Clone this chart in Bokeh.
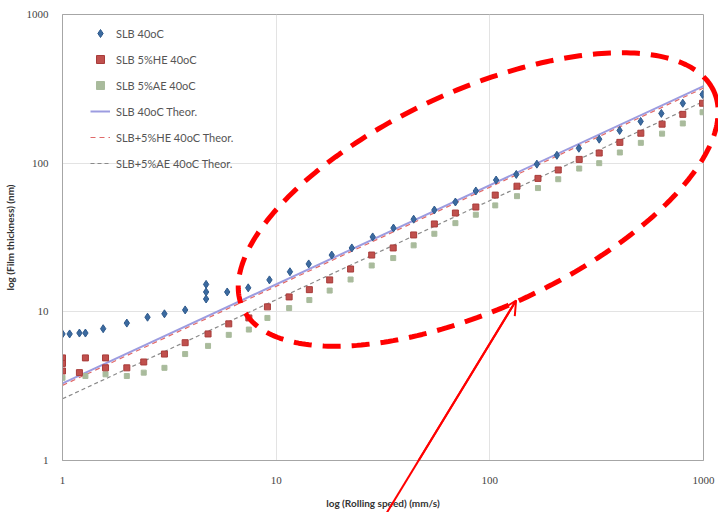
import numpy as np
from bokeh.plotting import figure
from bokeh.models import Range1d, FixedTicker, PrintfTickFormatter, Legend, LegendItem, Arrow, OpenHead
from bokeh.embed import file_html
from bokeh.resources import INLINE

# ---- data ----
slb_x = [1, 1.08, 1.2, 1.28, 1.55, 2.0, 2.5, 3.0, 3.75, 4.7, 4.7, 4.7, 5.9, 7.4, 9.3, 11.6, 14.2,
         18.2, 22.6, 28.3, 35.4, 44, 55, 69, 86, 107, 133, 166, 206, 261, 325, 405, 508, 635, 800, 990]
slb_y = [7.1, 7.1, 7.2, 7.2, 7.7, 8.4, 9.2, 9.7, 10.3, 12.2, 13.6, 15.3, 13.6, 14.5, 16.4, 18.6, 21.0,
         24.1, 26.9, 31.9, 36.6, 42, 48.4, 54.8, 65, 77, 84, 98.5, 113, 126, 145, 166, 191, 216, 253, 290]

he_x = [1, 1, 1, 1.2, 1.28, 1.59, 1.59, 2.0, 2.4, 3.0, 3.75, 4.8, 6.0, 7.45, 9.1, 11.5, 14.3, 17.8,
        22.3, 28, 35.3, 44, 55, 69, 86, 106, 134, 168, 209, 262, 325, 406, 509, 640, 800, 990]
he_y = [4.9, 4.5, 4.0, 3.9, 4.9, 4.9, 4.2, 4.2, 4.6, 5.2, 6.2, 7.1, 8.3, 9.1, 10.8, 12.6, 14.1, 16.4,
        19.4, 24.1, 26.9, 32.9, 39, 46.2, 50.7, 61, 70, 79, 90, 106, 117, 138, 159, 183, 213, 253]

ae_x = [1, 1.28, 1.59, 2.0, 2.4, 3.0, 3.75, 4.8, 6.0, 7.45, 9.1, 11.5, 14.3, 17.8, 22.3, 28, 35.3,
        44, 55, 69, 86, 106, 134, 168, 209, 262, 325, 406, 509, 640, 800, 990]
ae_y = [3.6, 3.7, 3.8, 3.7, 3.9, 4.2, 5.2, 5.9, 7.0, 7.6, 9.1, 10.6, 12.0, 13.9, 16.5, 20.5, 23.0,
        28.0, 33.5, 39.5, 45, 52, 60, 68, 78, 92, 100, 118, 137, 158, 185, 220]

theor_x = [1, 1000]
slb_theor_y = [3.3, 330]
he_theor_y = [3.2, 320]
ae_theor_y = [2.6, 260]

ticks = [1, 10, 100, 1000]
labels = ["SLB 40oC", "SLB 5%HE 40oC", "SLB 5%AE 40oC",
          "SLB 40oC Theor.", "SLB+5%HE 40oC Theor.", "SLB+5%AE 40oC Theor."]

# ---- figure ----
p = figure(width=718, height=512, x_axis_type="log", y_axis_type="log",
           x_range=Range1d(1, 1000), y_range=Range1d(1, 1000),
           output_backend="svg", toolbar_location=None,
           min_border_left=60, min_border_right=15, min_border_top=14, min_border_bottom=52)
p.background_fill_color = "white"
p.border_fill_color = "white"
p.outline_line_color = "#a6a6a6"
p.outline_line_width = 1

for ax in (p.xaxis, p.yaxis):
    ax.ticker = FixedTicker(ticks=ticks)
    ax.formatter = PrintfTickFormatter(format="%d")
    ax.major_tick_in = 0
    ax.major_tick_out = 0
    ax.minor_tick_in = 0
    ax.minor_tick_out = 0
    ax.axis_line_color = "#a6a6a6"
    ax.major_label_text_font = "Liberation Serif"
    ax.major_label_text_font_size = "11px"
    ax.major_label_text_color = "#444444"
    ax.axis_label_text_font = "Lato"
    ax.axis_label_text_font_size = "10px"
    ax.axis_label_text_font_style = "bold"
    ax.axis_label_text_color = "#333333"

p.xaxis.axis_label = "log (Rolling speed) (mm/s)"
p.yaxis.axis_label = "log (Film thickness) (nm)"
p.xaxis.major_label_standoff = 16
p.xaxis.axis_label_standoff = 10
p.yaxis.major_label_standoff = 14
p.yaxis.axis_label_standoff = 8

p.xgrid.ticker = FixedTicker(ticks=ticks)
p.ygrid.ticker = FixedTicker(ticks=ticks)
p.xgrid.grid_line_color = "#e3e3e3"
p.ygrid.grid_line_color = "#e3e3e3"

# theoretical lines
l1 = p.line(theor_x, slb_theor_y, line_color="#9c9ce0", line_width=2)
l2 = p.line(theor_x, he_theor_y, line_color="#e06a6a", line_width=1.2, line_dash="5 4")
l3 = p.line(theor_x, ae_theor_y, line_color="#8a8a8a", line_width=1.2, line_dash="4 3")

# measured series
r3 = p.scatter(ae_x, ae_y, marker="square", size=5, fill_color="#a9bb9c", line_color="#a9bb9c")
r2 = p.scatter(he_x, he_y, marker="square", size=6, fill_color="#c0504d", line_color="#a83c3a")
r1 = p.scatter(slb_x, slb_y, marker="diamond", size=8, fill_color="#3b6aa0", line_color="#2f5a8c")

legend = Legend(items=[LegendItem(label=labels[0], renderers=[r1]),
                       LegendItem(label=labels[1], renderers=[r2]),
                       LegendItem(label=labels[2], renderers=[r3]),
                       LegendItem(label=labels[3], renderers=[l1]),
                       LegendItem(label=labels[4], renderers=[l2]),
                       LegendItem(label=labels[5], renderers=[l3])],
                location=(28, 287), border_line_color=None, background_fill_alpha=0,
                padding=0, spacing=6, glyph_height=20, label_height=20, glyph_width=20,
                label_text_font="Lato", label_text_font_size="11px", label_text_color="#555555",
                label_standoff=6)
p.add_layout(legend)

# ---- annotation: dashed red ellipse and arrow (pixel-based geometry in log space) ----
dec_x = 643 / 3.0
dec_y = 446 / 3.0
cx_px, cy_px, a_px, b_px, theta = 417.0, 261.0, 260.0, 109.0, np.deg2rad(24.6)  # from frame bottom-left
t = np.linspace(0, 2 * np.pi, 300)
ex_px = cx_px + a_px * np.cos(t) * np.cos(theta) - b_px * np.sin(t) * np.sin(theta)
ey_px = cy_px + a_px * np.cos(t) * np.sin(theta) + b_px * np.sin(t) * np.cos(theta)
ell_x = 10 ** (ex_px / dec_x)
ell_y = 10 ** (ey_px / dec_y)
p.line(ell_x, ell_y, line_color="red", line_width=5, line_dash="18 11", level="overlay")

arrow_x = [10 ** (323 / dec_x), 10 ** (455 / dec_x)]
arrow_y = [10 ** (-56 / dec_y), 10 ** (160 / dec_y)]
p.line(arrow_x, arrow_y, line_color="red", line_width=2, level="overlay")
p.add_layout(Arrow(end=OpenHead(size=14, line_color="red", line_width=2),
                   x_start=arrow_x[0], y_start=arrow_y[0], x_end=arrow_x[1], y_end=arrow_y[1],
                   line_color="red", line_width=2, level="overlay"))

open("out.html", "w").write(file_html(p, INLINE))
